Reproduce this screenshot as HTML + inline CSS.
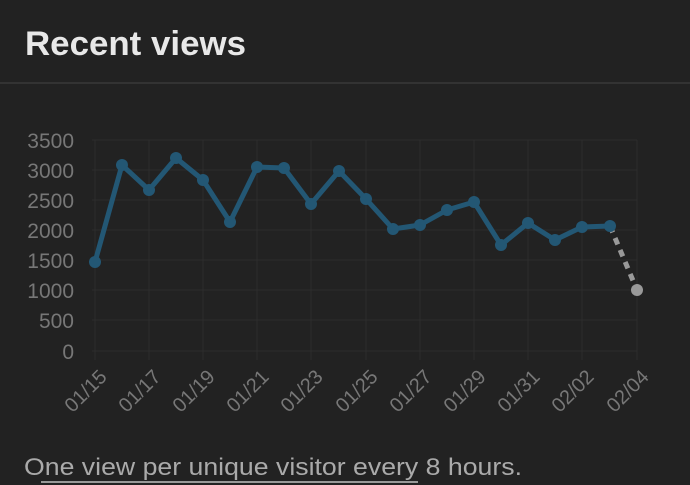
<!DOCTYPE html>
<html><head><meta charset="utf-8"><style>
html,body{margin:0;padding:0;background:#222;width:690px;height:485px;overflow:hidden}
</style></head><body>
<svg width="690" height="485" xmlns="http://www.w3.org/2000/svg" font-family="Liberation Sans, sans-serif">
<rect width="690" height="485" fill="#222"/>
<text x="25" y="55" font-size="34" font-weight="bold" fill="#e8e8e8" textLength="221" lengthAdjust="spacingAndGlyphs">Recent views</text>
<rect x="0" y="82" width="690" height="2" fill="#333"/>
<g stroke="#2c2c2c" stroke-width="1">
<line x1="92" y1="140" x2="637" y2="140"/><line x1="92" y1="170" x2="637" y2="170"/>
<line x1="92" y1="200" x2="637" y2="200"/><line x1="92" y1="230" x2="637" y2="230"/>
<line x1="92" y1="260" x2="637" y2="260"/><line x1="92" y1="290" x2="637" y2="290"/>
<line x1="92" y1="320" x2="637" y2="320"/><line x1="92" y1="351" x2="637" y2="351"/>
<line x1="95" y1="140" x2="95" y2="360"/><line x1="149" y1="140" x2="149" y2="360"/>
<line x1="203" y1="140" x2="203" y2="360"/><line x1="257" y1="140" x2="257" y2="360"/>
<line x1="311" y1="140" x2="311" y2="360"/><line x1="366" y1="140" x2="366" y2="360"/>
<line x1="420" y1="140" x2="420" y2="360"/><line x1="474" y1="140" x2="474" y2="360"/>
<line x1="528" y1="140" x2="528" y2="360"/><line x1="582" y1="140" x2="582" y2="360"/>
<line x1="637" y1="140" x2="637" y2="360"/>
</g>
<g font-size="21" fill="#777" text-anchor="end">
<text x="74" y="148">3500</text><text x="74" y="178">3000</text><text x="74" y="208">2500</text>
<text x="74" y="238">2000</text><text x="74" y="268">1500</text><text x="74" y="298">1000</text>
<text x="74" y="328">500</text><text x="74" y="359">0</text>
</g>
<g font-size="20" fill="#777" text-anchor="end">
<text transform="translate(108,378) rotate(-45)">01/15</text>
<text transform="translate(162,378) rotate(-45)">01/17</text>
<text transform="translate(216,378) rotate(-45)">01/19</text>
<text transform="translate(270,378) rotate(-45)">01/21</text>
<text transform="translate(324,378) rotate(-45)">01/23</text>
<text transform="translate(379,378) rotate(-45)">01/25</text>
<text transform="translate(433,378) rotate(-45)">01/27</text>
<text transform="translate(487,378) rotate(-45)">01/29</text>
<text transform="translate(541,378) rotate(-45)">01/31</text>
<text transform="translate(595,378) rotate(-45)">02/02</text>
<text transform="translate(650,378) rotate(-45)">02/04</text>
</g>
<polyline points="610,226 637,290" fill="none" stroke="#999" stroke-width="5" stroke-dasharray="7,6"/>
<circle cx="637" cy="290" r="6" fill="#999"/>
<polyline fill="none" stroke="#235774" stroke-width="5" stroke-linejoin="round" points="95,262 122,165 149,190 176,158 203,180 230,222 257,167 284,168 311,204 339,171 366,199 393,229 420,225 447,210 474,202 501,245 528,223 555,240 582,227 610,226"/>
<g fill="#235774">
<circle cx="95" cy="262" r="6"/><circle cx="122" cy="165" r="6"/><circle cx="149" cy="190" r="6"/>
<circle cx="176" cy="158" r="6"/><circle cx="203" cy="180" r="6"/><circle cx="230" cy="222" r="6"/>
<circle cx="257" cy="167" r="6"/><circle cx="284" cy="168" r="6"/><circle cx="311" cy="204" r="6"/>
<circle cx="339" cy="171" r="6"/><circle cx="366" cy="199" r="6"/><circle cx="393" cy="229" r="6"/>
<circle cx="420" cy="225" r="6"/><circle cx="447" cy="210" r="6"/><circle cx="474" cy="202" r="6"/>
<circle cx="501" cy="245" r="6"/><circle cx="528" cy="223" r="6"/><circle cx="555" cy="240" r="6"/>
<circle cx="582" cy="227" r="6"/><circle cx="610" cy="226" r="6"/>
</g>
<text x="24" y="475" font-size="24" fill="#aaa" textLength="498" lengthAdjust="spacingAndGlyphs">One view per unique visitor every 8 hours.</text>
<rect x="41" y="481" width="377" height="2" fill="#999"/>
</svg>
</body></html>
